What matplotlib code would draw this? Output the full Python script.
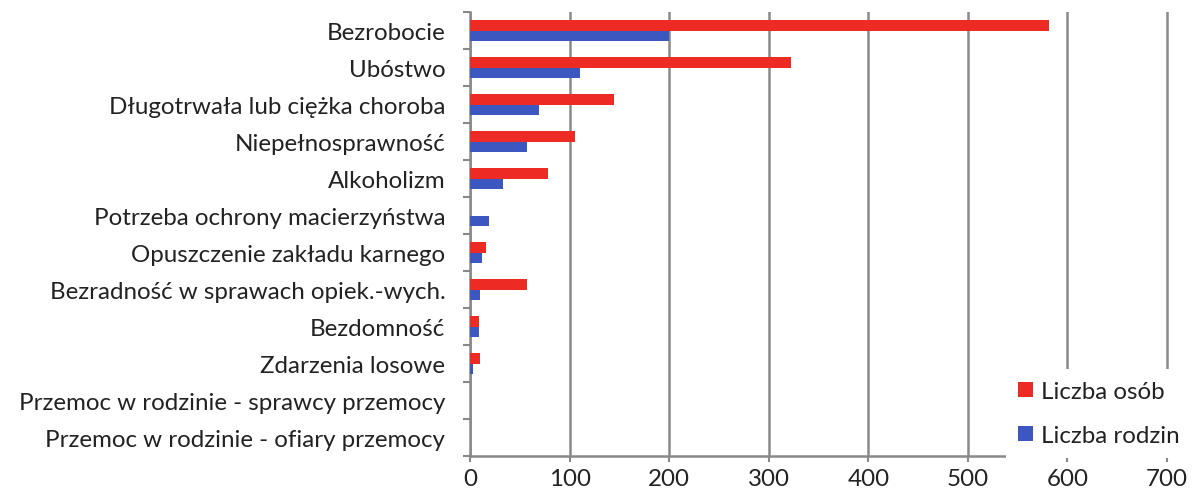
import matplotlib
matplotlib.use("Agg")
import matplotlib.pyplot as plt
import numpy as np

categories = [
    "Bezrobocie",
    "Ubóstwo",
    "Długotrwała lub ciężka choroba",
    "Niepełnosprawność",
    "Alkoholizm",
    "Potrzeba ochrony macierzyństwa",
    "Opuszczenie zakładu karnego",
    "Bezradność w sprawach opiek.-wych.",
    "Bezdomność",
    "Zdarzenia losowe",
    "Przemoc w rodzinie - sprawcy przemocy",
    "Przemoc w rodzinie - ofiary przemocy",
]
liczba_osob = [582, 322, 144, 105, 78, 0, 16, 57, 9, 10, 0, 0]
liczba_rodzin = [200, 110, 69, 57, 33, 19, 12, 10, 9, 3, 0, 0]
xticks = [0, 100, 200, 300, 400, 500, 600, 700]
series_names = ["Liczba osób", "Liczba rodzin"]

plt.rcParams['font.family'] = ['Lato', 'DejaVu Sans']
RED = "#EE2A24"
BLUE = "#3D57C1"
GRID = "#898989"
FS = 17.4

fig = plt.figure(figsize=(11.92, 5.02), dpi=100)
ax = fig.add_axes([470.3/1192, 1-457/502, 699.5/1192, 444/502])

y = np.arange(len(categories))
h = 0.285
ax.barh(y - h/2, liczba_osob, height=h, color=RED, label=series_names[0], zorder=3)
ax.barh(y + h/2, liczba_rodzin, height=h, color=BLUE, label=series_names[1], zorder=3)

ax.set_ylim(len(categories) - 0.5, -0.5)
ax.set_xlim(0, 703)
ax.set_xticks(xticks)
ax.set_xticklabels([str(v) for v in xticks], fontsize=FS, color="#222222")
ax.set_yticks(np.arange(len(categories) + 1) - 0.5, minor=False)
ax.set_yticklabels([])
ax.set_yticks(y, minor=True)
ax.set_yticklabels(categories, minor=True, fontsize=FS, color="#222222")
ax.tick_params(axis='y', which='minor', length=0, pad=18)
ax.tick_params(axis='y', which='major', length=5, width=1.5, color=GRID)
ax.tick_params(axis='x', length=4, width=1.5, color=GRID, pad=5)

ax.grid(axis='x', color=GRID, linewidth=1.8, zorder=1)
ax.set_axisbelow(True)
for s in ['top', 'right']:
    ax.spines[s].set_visible(False)
for s in ['left', 'bottom']:
    ax.spines[s].set_color(GRID)
    ax.spines[s].set_linewidth(1.8)

leg = ax.legend(loc='lower right', bbox_to_anchor=(1192/1192, 1-459/502),
                bbox_transform=fig.transFigure, fontsize=FS, frameon=True,
                facecolor='white', edgecolor='none', framealpha=1, fancybox=False,
                handlelength=0.6, handleheight=0.6, labelspacing=0.95,
                handletextpad=0.35, borderpad=0.5, borderaxespad=0)
leg.set_zorder(5)
for t in leg.get_texts():
    t.set_color("#222222")

fig.savefig("out.png", dpi=100)
